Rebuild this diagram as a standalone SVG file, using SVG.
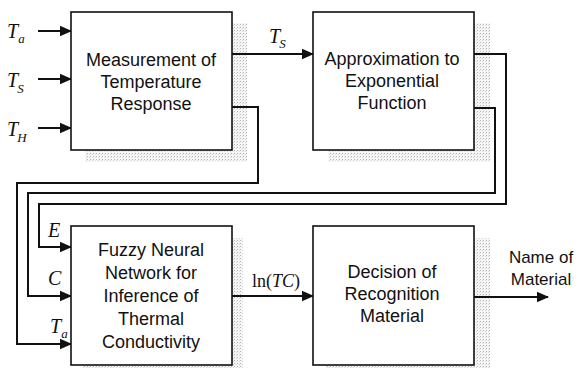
<svg xmlns="http://www.w3.org/2000/svg" width="581" height="368" viewBox="0 0 581 368">
  <defs>
    <!-- stippled grey used for the drop shadows -->
    <pattern id="stipple" width="3" height="3" patternUnits="userSpaceOnUse">
      <rect width="3" height="3" fill="#f6f6f6"/>
      <rect x="0" y="0" width="1" height="1" fill="#b4b4b4"/>
      <rect x="2" y="1" width="1" height="1" fill="#d8d8d8"/>
    </pattern>
    <marker id="arrow" markerUnits="userSpaceOnUse" markerWidth="12" markerHeight="12" viewBox="0 0 12 12" refX="11" refY="6" orient="auto">
      <path d="M0,0.8 L12,6 L0,11.2 Z" fill="#111"/>
    </marker>
    <style>
      .box { fill: #fff; stroke: #111; stroke-width: 1.6; }
      .shadow { fill: url(#stipple); }
      .wire { fill: none; stroke: #111; stroke-width: 2; }
      .arr { marker-end: url(#arrow); }
      .txt { font-family: "Liberation Sans", Arial, sans-serif; font-size: 18px; fill: #111; text-anchor: middle; }
      .sym { font-family: "Liberation Serif", "Times New Roman", serif; font-size: 20px; font-style: italic; fill: #111; }
      .sub { font-size: 13px; }
      .up { font-style: normal; }
    </style>
  </defs>

  <rect width="581" height="368" fill="#fff"/>

  <!-- drop shadows -->
  <rect class="shadow" x="85" y="23" width="162" height="139"/>
  <rect class="shadow" x="328" y="23" width="162" height="139"/>
  <rect class="shadow" x="83" y="238" width="160" height="135"/>
  <rect class="shadow" x="326" y="238" width="164" height="135"/>

  <!-- connectors -->
  <g id="connectors">
    <path class="wire arr" d="M38,31 H71"/>
    <path class="wire arr" d="M38,79 H71"/>
    <path class="wire arr" d="M38,128 H71"/>
    <path class="wire arr" d="M232,54 H313"/>
    <path class="wire arr" d="M232,107 H258 V183 H17 V344 H71"/>
    <path class="wire arr" d="M474,54 H506 V204 H39 V247 H71"/>
    <path class="wire arr" d="M474,108 H495 V193 H28 V296 H71"/>
    <path class="wire arr" d="M232,296 H313"/>
    <path class="wire arr" d="M474,297 H548"/>
  </g>

  <!-- blocks -->
  <g id="measurement">
    <rect class="box" x="71" y="12" width="161" height="138"/>
    <text class="txt" x="151" y="66">Measurement of</text>
    <text class="txt" x="151" y="88">Temperature</text>
    <text class="txt" x="151" y="110">Response</text>
  </g>
  <g id="approximation">
    <rect class="box" x="313" y="12" width="161" height="138"/>
    <text class="txt" x="392" y="65">Approximation to</text>
    <text class="txt" x="392" y="87">Exponential</text>
    <text class="txt" x="392" y="109">Function</text>
  </g>
  <g id="fuzzy-network">
    <rect class="box" x="71" y="226" width="161" height="139"/>
    <text class="txt" x="151" y="256">Fuzzy Neural</text>
    <text class="txt" x="151" y="279">Network for</text>
    <text class="txt" x="151" y="302">Inference of</text>
    <text class="txt" x="151" y="325">Thermal</text>
    <text class="txt" x="151" y="348">Conductivity</text>
  </g>
  <g id="decision">
    <rect class="box" x="313" y="226" width="161" height="139"/>
    <text class="txt" x="392" y="278">Decision of</text>
    <text class="txt" x="392" y="300">Recognition</text>
    <text class="txt" x="392" y="322">Material</text>
  </g>

  <!-- signal labels -->
  <g id="labels">
    <text class="sym" x="7" y="38">T<tspan class="sub" dx="0" dy="5">a</tspan></text>
    <text class="sym" x="7" y="87">T<tspan class="sub" dx="-1" dy="6">S</tspan></text>
    <text class="sym" x="7" y="136">T<tspan class="sub" dx="-1" dy="6">H</tspan></text>
    <text class="sym" x="269" y="43">T<tspan class="sub" dx="-1" dy="5">S</tspan></text>
    <text class="sym" x="48" y="237">E</text>
    <text class="sym" x="48" y="285">C</text>
    <text class="sym" x="50" y="333">T<tspan class="sub" dx="0" dy="5">a</tspan></text>
    <text class="sym" x="252" y="287" style="font-size:18px"><tspan class="up">ln(</tspan>TC<tspan class="up">)</tspan></text>
    <text class="txt" x="541" y="263" style="font-size:17px">Name of</text>
    <text class="txt" x="541" y="285" style="font-size:17px">Material</text>
  </g>
</svg>
